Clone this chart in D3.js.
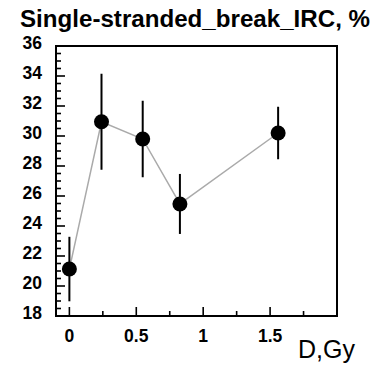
<!DOCTYPE html>
<html>
<head>
<meta charset="utf-8">
<script src="https://cdn.jsdelivr.net/npm/d3@7"></script>
<style>
  body { margin: 0; background: #fff; }
  text { font-family: "Liberation Sans", Arial, sans-serif; }
</style>
</head>
<body>
<div id="chart"></div>
<script>
// data
const dose = [0, 0.24, 0.548, 0.826, 1.56];
const breakPct = [21.13, 30.95, 29.8, 25.47, 30.2];
const breakErr = [2.15, 3.2, 2.55, 2.0, 1.75];
const xTickLabels = [0, 0.5, 1, 1.5];
const yTickLabels = [18, 20, 22, 24, 26, 28, 30, 32, 34, 36];

const width = 374, height = 365;
const frame = { left: 56, right: 337, top: 46, bottom: 316 };

let svg = d3.select('#chart')
    .append('svg')
    .attr('width', width)
    .attr('height', height);

let x = d3.scaleLinear().domain([-0.1, 2.0]).range([frame.left, frame.right]);
let y = d3.scaleLinear().domain([18, 36]).range([frame.bottom, frame.top]);

// title
svg.append('text')
    .attr('x', 20)
    .attr('y', 27)
    .attr('font-size', 23.5)
    .attr('font-weight', 'bold')
    .attr('textLength', 350)
    .attr('lengthAdjust', 'spacingAndGlyphs')
    .text('Single-stranded_break_IRC, %');

// y ticks (inside, left side only)
let yMinor = d3.range(18, 36.01, 0.5).filter(v => Math.abs(v % 2) > 0.01);
svg.append('g').selectAll('line.ymin')
    .data(yMinor).join('line')
    .attr('x1', frame.left).attr('x2', frame.left + 5)
    .attr('y1', d => y(d)).attr('y2', d => y(d))
    .attr('stroke', '#000').attr('stroke-width', 1.6);
svg.append('g').selectAll('line.ymaj')
    .data(yTickLabels).join('line')
    .attr('x1', frame.left).attr('x2', frame.left + 9)
    .attr('y1', d => y(d)).attr('y2', d => y(d))
    .attr('stroke', '#000').attr('stroke-width', 1.6);

svg.append('g').selectAll('text')
    .data(yTickLabels).join('text')
    .attr('x', 42)
    .attr('y', d => y(d) + 3)
    .attr('text-anchor', 'end')
    .attr('font-size', 17.5)
    .attr('font-weight', 'bold')
    .text(d => d);

// x ticks (inside, bottom only)
let xMinor = [0.25, 0.75, 1.25, 1.75];
svg.append('g').selectAll('line')
    .data(xMinor).join('line')
    .attr('x1', d => x(d)).attr('x2', d => x(d))
    .attr('y1', frame.bottom).attr('y2', frame.bottom - 5)
    .attr('stroke', '#000').attr('stroke-width', 1.6);
svg.append('g').selectAll('line')
    .data(xTickLabels).join('line')
    .attr('x1', d => x(d)).attr('x2', d => x(d))
    .attr('y1', frame.bottom).attr('y2', frame.bottom - 9)
    .attr('stroke', '#000').attr('stroke-width', 1.6);

svg.append('g').selectAll('text')
    .data(xTickLabels).join('text')
    .attr('x', d => x(d))
    .attr('y', 341.5)
    .attr('text-anchor', 'middle')
    .attr('font-size', 17.5)
    .attr('font-weight', 'bold')
    .text(d => d);

// axis title
svg.append('text')
    .attr('x', 298)
    .attr('y', 358)
    .attr('font-size', 25)
    .text('D,Gy');

// frame
svg.append('rect')
    .attr('x', frame.left)
    .attr('y', frame.top)
    .attr('width', frame.right - frame.left)
    .attr('height', frame.bottom - frame.top)
    .attr('fill', 'none')
    .attr('stroke', '#000')
    .attr('stroke-width', 2);

let pts = dose.map((d, i) => ({ x: d, y: breakPct[i], e: breakErr[i] }));

// connecting line
svg.append('path')
    .datum(pts)
    .attr('fill', 'none')
    .attr('stroke', '#aaa')
    .attr('stroke-width', 1.5)
    .attr('d', d3.line().x(d => x(d.x)).y(d => y(d.y)));

// error bars
svg.append('g').selectAll('line')
    .data(pts).join('line')
    .attr('x1', d => x(d.x)).attr('x2', d => x(d.x))
    .attr('y1', d => y(d.y + d.e)).attr('y2', d => y(d.y - d.e))
    .attr('stroke', '#000').attr('stroke-width', 2);

// markers
svg.append('g').selectAll('circle')
    .data(pts).join('circle')
    .attr('cx', d => x(d.x))
    .attr('cy', d => y(d.y))
    .attr('r', 7.5)
    .attr('fill', '#000');
</script>
</body>
</html>
